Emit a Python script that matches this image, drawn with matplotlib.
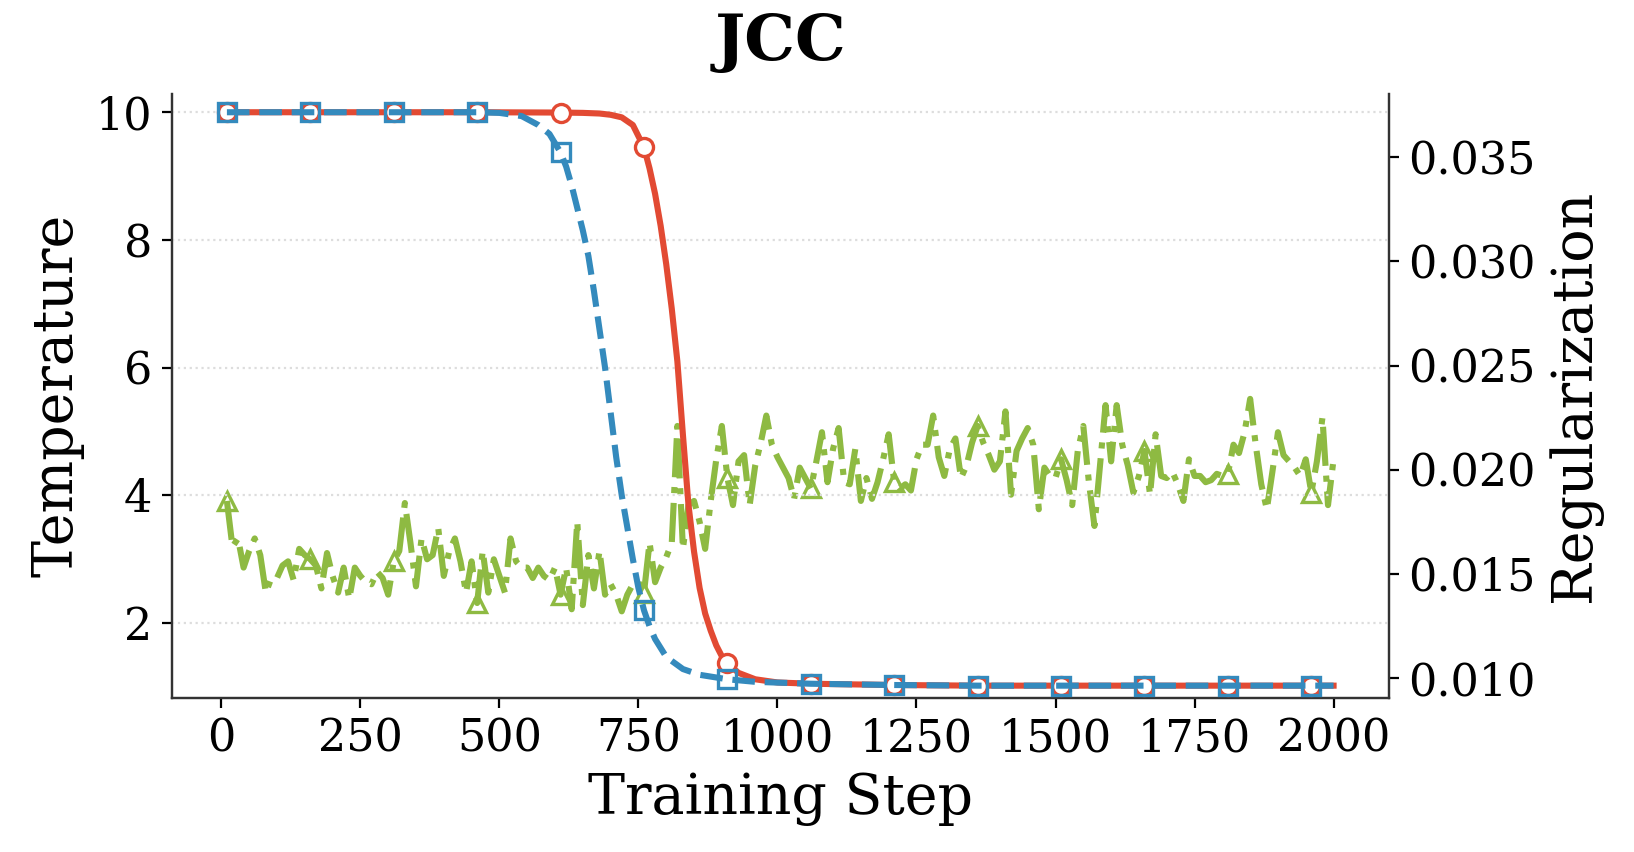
import numpy as np
import matplotlib
matplotlib.use("Agg")
import matplotlib.pyplot as plt

plt.rcParams['font.family'] = 'serif'
plt.rcParams['font.serif'] = ['DejaVu Serif']

# temperature schedules
red_steps = [10, 160, 310, 460, 610, 650, 680, 700, 720, 740, 760, 770, 780, 790, 800,
             810, 820, 830, 840, 850, 860, 870, 880, 890, 900, 910, 930, 960, 1000,
             1060, 1210, 1360, 1510, 1660, 1810, 1960, 2000]
red_temp = [10, 10, 10, 10, 9.995, 9.99, 9.98, 9.96, 9.92, 9.8, 9.45, 9.12, 8.72, 8.22, 7.62,
            6.92, 6.1, 4.95, 3.85, 3.12, 2.55, 2.15, 1.88, 1.65, 1.48, 1.37, 1.22, 1.12, 1.07,
            1.05, 1.03, 1.02, 1.02, 1.02, 1.02, 1.02, 1.02]

blue_steps = [10, 160, 310, 460, 500, 540, 570, 590, 610, 620, 630, 640, 650, 660, 670,
              680, 690, 700, 710, 720, 730, 740, 750, 760, 770, 780, 800, 830, 860, 910,
              960, 1060, 1210, 1360, 1510, 1660, 1810, 1960, 2000]
blue_temp = [10, 10, 10, 10, 9.99, 9.94, 9.8, 9.66, 9.37, 9.15, 8.85, 8.5, 8.15, 7.75, 7.2,
             6.6, 6.0, 5.3, 4.6, 4.0, 3.5, 3.0, 2.55, 2.2, 1.95, 1.75, 1.47, 1.28, 1.19, 1.12,
             1.08, 1.05, 1.03, 1.02, 1.02, 1.02, 1.02, 1.02, 1.02]

# regularization, logged every 10 steps
green_steps = np.arange(10, 2001, 10)
green_reg = [
    0.0185, 0.0163, 0.0167, 0.0153, 0.0161, 0.0167, 0.0159, 0.0141, 0.0148, 0.0148,
    0.0154, 0.0156, 0.0147, 0.0162, 0.0159, 0.0157, 0.0154, 0.0143, 0.0160, 0.0149,
    0.0141, 0.0153, 0.0138, 0.0153, 0.0149, 0.0146, 0.0145, 0.0151, 0.0148, 0.0140,
    0.0156, 0.0161, 0.0184, 0.0165, 0.0144, 0.0167, 0.0157, 0.0159, 0.0172, 0.0149,
    0.0161, 0.0167, 0.0156, 0.0141, 0.0156, 0.0136, 0.0161, 0.0141, 0.0157, 0.0149,
    0.0141, 0.0167, 0.0156, 0.0153, 0.0153, 0.0148, 0.0153, 0.0149, 0.0147, 0.0153,
    0.0140, 0.0153, 0.0133, 0.0175, 0.0135, 0.0159, 0.0143, 0.0161, 0.0140, 0.0145,
    0.0140, 0.0132, 0.0140, 0.0145, 0.0146, 0.0141, 0.0165, 0.0146, 0.0153, 0.0158,
    0.0165, 0.0221, 0.0162, 0.0183, 0.0185, 0.0175, 0.0162, 0.0185, 0.0205, 0.0221,
    0.0196, 0.0183, 0.0204, 0.0207, 0.0183, 0.0202, 0.0213, 0.0226, 0.0212, 0.0206,
    0.0201, 0.0196, 0.0186, 0.0201, 0.0196, 0.0191, 0.0204, 0.0218, 0.0194, 0.0210,
    0.0220, 0.0194, 0.0193, 0.0210, 0.0185, 0.0196, 0.0186, 0.0194, 0.0205, 0.0217,
    0.0194, 0.0191, 0.0193, 0.0190, 0.0205, 0.0212, 0.0212, 0.0226, 0.0206, 0.0197,
    0.0210, 0.0215, 0.0196, 0.0202, 0.0213, 0.0221, 0.0213, 0.0207, 0.0200, 0.0204,
    0.0228, 0.0188, 0.0209, 0.0215, 0.0220, 0.0212, 0.0181, 0.0201, 0.0197, 0.0196,
    0.0205, 0.0195, 0.0183, 0.0209, 0.0221, 0.0194, 0.0173, 0.0202, 0.0231, 0.0204,
    0.0231, 0.0212, 0.0202, 0.0189, 0.0197, 0.0209, 0.0188, 0.0217, 0.0197, 0.0196,
    0.0199, 0.0193, 0.0185, 0.0205, 0.0197, 0.0197, 0.0194, 0.0195, 0.0198, 0.0197,
    0.0198, 0.0212, 0.0208, 0.0218, 0.0234, 0.0212, 0.0193, 0.0181, 0.0199, 0.0218,
    0.0207, 0.0204, 0.0201, 0.0197, 0.0205, 0.0189, 0.0204, 0.0225, 0.0183, 0.0205,
]

RED = '#E24A33'
BLUE = '#348ABD'
GREEN = '#8EBA42'


def marker_idx(steps):
    return [i for i, s in enumerate(steps) if (s - 10) % 150 == 0]


fig, ax = plt.subplots(figsize=(8.17, 4.26), dpi=200)
fig.subplots_adjust(left=0.105, right=0.850, top=0.890, bottom=0.181)
ax2 = ax.twinx()

ax.plot(red_steps, red_temp, color=RED, lw=2.2, marker='o', markevery=marker_idx(red_steps),
        ms=6.5, mfc='white', mec=RED, mew=1.2, zorder=3)
ax.plot(blue_steps, blue_temp, color=BLUE, lw=2.2, ls='--', marker='s',
        markevery=marker_idx(blue_steps), ms=6.5, mfc='none', mec=BLUE, mew=1.2, zorder=4)
ax2.plot(green_steps, green_reg, color=GREEN, lw=2.2, ls='-.', marker='^', markevery=15,
         ms=6.5, mfc='none', mec=GREEN, mew=1.2)

ax.set_zorder(ax2.get_zorder() + 1)
ax.patch.set_visible(False)

ax.set_xlim(-89.5, 2099.5)
ax.set_ylim(0.83, 10.29)
ax2.set_ylim(0.00905, 0.03805)
ax.set_xticks([0, 250, 500, 750, 1000, 1250, 1500, 1750, 2000])
ax.set_yticks([2, 4, 6, 8, 10])
ax2.set_yticks([0.010, 0.015, 0.020, 0.025, 0.030, 0.035])

ax.grid(axis='y', ls=':', color='#dddddd', lw=0.8)
ax.tick_params(labelsize=16)
ax2.tick_params(labelsize=16)

for a in (ax, ax2):
    a.spines['top'].set_visible(False)
    for s in ('left', 'right', 'bottom'):
        a.spines[s].set_color('#333333')

ax.set_xlabel('Training Step', fontsize=20)
ax.set_ylabel('Temperature', fontsize=20)
ax2.set_ylabel('Regularization', fontsize=20)
ax.set_title('JCC', fontsize=23, fontweight='bold', pad=12)

fig.savefig('out.png', dpi=200)
